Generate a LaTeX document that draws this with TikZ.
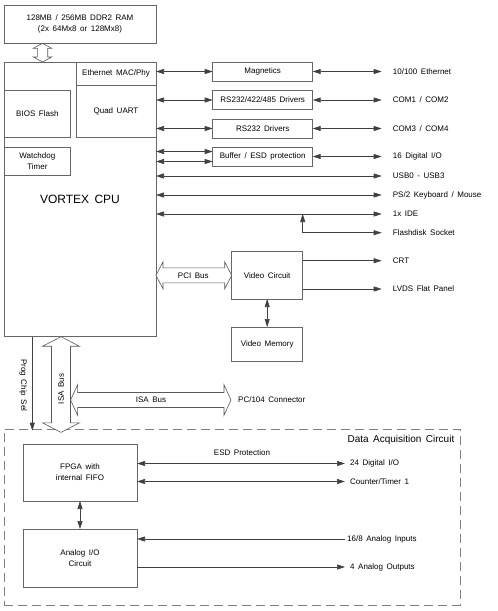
\documentclass[tikz,border=0pt]{standalone}
\usepackage{fontspec}
\setmainfont{Liberation Sans}[WordSpace=1.6]
\usetikzlibrary{arrows.meta,calc}
\newcommand{\hollowH}[5]{%
  \draw[hollow] (#1) -- ($(#1)+(#5,-#3)$) -- ($(#1)+(#5,-#4)$) -- ($(#2)+(-#5,-#4)$) -- ($(#2)+(-#5,-#3)$) -- (#2) -- ($(#2)+(-#5,#3)$) -- ($(#2)+(-#5,#4)$) -- ($(#1)+(#5,#4)$) -- ($(#1)+(#5,#3)$) -- cycle;}
\newcommand{\hollowV}[5]{%
  \draw[hollow] (#1) -- ($(#1)+(#3,#5)$) -- ($(#1)+(#4,#5)$) -- ($(#2)+(#4,-#5)$) -- ($(#2)+(#3,-#5)$) -- (#2) -- ($(#2)+(-#3,-#5)$) -- ($(#2)+(-#4,-#5)$) -- ($(#1)+(-#4,#5)$) -- ($(#1)+(-#3,#5)$) -- cycle;}
\begin{document}
\begin{tikzpicture}[x=1pt,y=-1pt,
  tip/.style={Triangle[length=8pt,width=5pt]},
  box/.style={draw=black!60, line width=0.7pt, fill=white, inner sep=0pt, outer sep=0pt, align=center, font=\fontsize{8}{11}\selectfont},
  lbl/.style={font=\fontsize{8}{10}\selectfont, inner ysep=1pt, anchor=west},
  lblR/.style={lbl, inner xsep=11pt},
  lblD/.style={lbl, inner xsep=5pt},
  txt/.style={font=\fontsize{8}{10}\selectfont, inner sep=1pt},
  con/.style={draw=black!75, line width=0.6pt},
  dbl/.style={con, {Triangle[length=8pt,width=5pt]}-{Triangle[length=8pt,width=5pt]}},
  toR/.style={con, -{Triangle[length=8pt,width=5pt]}},
  hollow/.style={draw=black!65, line width=0.6pt, fill=white}]
\useasboundingbox (0,0) rectangle (498,611);

% main boxes
\node[box, minimum width=152pt, minimum height=38pt] (ram) at (80,24) {128MB / 256MB DDR2 RAM\\(2x 64Mx8 or 128Mx8)};
\node[box, minimum width=152pt, minimum height=274.7pt, font=\fontsize{12}{14}\selectfont] (cpu) at (80,199.35) {VORTEX CPU};
\node[box, minimum width=80pt, minimum height=23.7pt] (eth) at (116,73.85) {Ethernet MAC/Phy};
\node[box, minimum width=80pt, minimum height=51.6pt] (uart) at (116,111.5) {Quad UART};
\node[box, minimum width=66.7pt, minimum height=47pt] (bios) at (37.35,113.5) {BIOS Flash};
\node[box, minimum width=66.7pt, minimum height=28pt] (wdt) at (37.35,161) {Watchdog\\Timer};

\node[box, minimum width=100pt, minimum height=19pt] (mag) at (262.7,71.5) {Magnetics};
\node[box, minimum width=100pt, minimum height=19pt] (rs485) at (262.7,100) {RS232/422/485 Drivers};
\node[box, minimum width=100pt, minimum height=19pt] (rs232) at (262.7,128.5) {RS232 Drivers};
\node[box, minimum width=100pt, minimum height=19pt] (buf) at (262.7,156.5) {Buffer / ESD protection};

\node[box, minimum width=71pt, minimum height=47.3pt] (vid) at (267.2,275.35) {Video Circuit};
\node[box, minimum width=71pt, minimum height=34pt] (vmem) at (267.2,344) {Video Memory};

% right labels
\node[lblR] (eth100) at (381.7,71.5) {10/100 Ethernet};
\node[lblR] (com12) at (381.7,100) {COM1 / COM2};
\node[lblR] (com34) at (381.7,128.5) {COM3 / COM4};
\node[lblR] (dio16) at (381.7,156.5) {16 Digital I/O};
\node[lblR] (usb) at (381.7,176) {USB0 - USB3};
\node[lblR] (ps2) at (381.7,195) {PS/2 Keyboard / Mouse};
\node[lblR] (ide) at (381.7,214) {1x IDE};
\node[lblR] (flash) at (381.7,232.7) {Flashdisk Socket};
\node[lblR] (crt) at (381.7,260.7) {CRT};
\node[lblR] (lvds) at (381.7,289) {LVDS Flat Panel};

% connectors upper part
\draw[dbl] (cpu.east |- mag.west) -- (mag.west);
\draw[dbl] (mag.east) -- (eth100.west);
\draw[dbl] (cpu.east |- rs485.west) -- (rs485.west);
\draw[dbl] (rs485.east) -- (com12.west);
\draw[dbl] (cpu.east |- rs232.west) -- (rs232.west);
\draw[dbl] (rs232.east) -- (com34.west);
\coordinate (bufA) at ([yshift=5pt]buf.west);
\coordinate (bufB) at ([yshift=-5pt]buf.west);
\draw[dbl] (cpu.east |- bufA) -- (bufA);
\draw[dbl] (cpu.east |- bufB) -- (bufB);
\draw[dbl] (buf.east) -- (dio16.west);
\draw[dbl] (cpu.east |- usb.west) -- (usb.west);
\draw[dbl] (cpu.east |- ps2.west) -- (ps2.west);
\draw[dbl] (cpu.east |- ide.west) -- (ide.west);
\coordinate (fj) at (vid.east |- flash.west);
\draw[toR] (fj) -- (flash.west);
\draw[toR] (fj) -- (fj |- ide.west);
\draw[toR] (vid.east |- crt.west) -- (crt.west);
\draw[toR] (vid.east |- lvds.west) -- (lvds.west);
\draw[dbl] (vid.south) -- (vmem.north);

% hollow bus arrows
\coordinate (ramT) at ($(ram.south west)+(38.5,0.3)$);
\coordinate (ramB) at (ramT |- cpu.north);
\hollowV{ramT}{ramB}{9.2}{5.2}{5}
\coordinate (pciL) at (cpu.east |- vid.west);
\hollowH{pciL}{vid.west}{13.5}{7.5}{7}
\node[txt] (pci) at (193.3,276) {PCI Bus};

% data acquisition frame
\node[draw=black!50, line width=0.6pt, dash pattern=on 9pt off 5pt, minimum width=456pt, minimum height=176pt, inner sep=0pt] (daq) at (232,517) {};
\node[font=\fontsize{10}{12}\selectfont, anchor=east, inner sep=0pt] (daqt) at (454.5,440) {Data Acquisition Circuit};

% ISA / prog chip sel
\node[lbl, inner xsep=7pt] (pc104) at (231,400) {PC/104 Connector};
\coordinate (isaT) at ($(cpu.south west)+(57,0)$);
\coordinate (isaM) at (isaT |- daq.north);
\coordinate (isaB) at ($(isaM)+(0,3.7)$);
\coordinate (isaHL) at ($(isaT)+(9.6,63.3)$);
\hollowH{isaHL}{pc104.west}{15.3}{7.5}{7}
\hollowV{isaT}{isaB}{18.3}{9.5}{9.5}
\node[txt] (isah) at (151,399.5) {ISA Bus};
\node[txt, rotate=90] (isav) at (61,389) {ISA Bus};
\coordinate (pcsT) at ($(cpu.south west)+(28.3,0)$);
\coordinate (pcsM) at (pcsT |- daq.north);
\draw[toR] (pcsT) -- ($(pcsM)+(0,2)$);
\node[txt, rotate=-90] (pcs) at (23.3,385.5) {Prog Chip Sel};

% DAQ content
\node[box, minimum width=114pt, minimum height=57pt] (fpga) at (80,472.5) {FPGA with\\internal FIFO};
\node[box, minimum width=114pt, minimum height=58pt] (analog) at (80,558) {Analog I/O\\Circuit};
\draw[dbl] (fpga.south) -- (analog.north);
\node[lblD] (dio24) at (345,463.5) {24 Digital I/O};
\node[lblD] (ctr) at (345,481.5) {Counter/Timer 1};
\node[lbl, inner xsep=2pt] (ain) at (345,539) {16/8 Analog Inputs};
\node[lblD] (aout) at (345,567) {4 Analog Outputs};
\node[txt] (esd) at (242,453) {ESD Protection};
\draw[dbl] (fpga.east |- dio24.west) -- (dio24.west);
\draw[dbl] (fpga.east |- ctr.west) -- (ctr.west);
\draw[toR] (ain.west) -- (analog.east |- ain.west);
\draw[toR] (analog.east |- aout.west) -- (aout.west);
\end{tikzpicture}
\end{document}
